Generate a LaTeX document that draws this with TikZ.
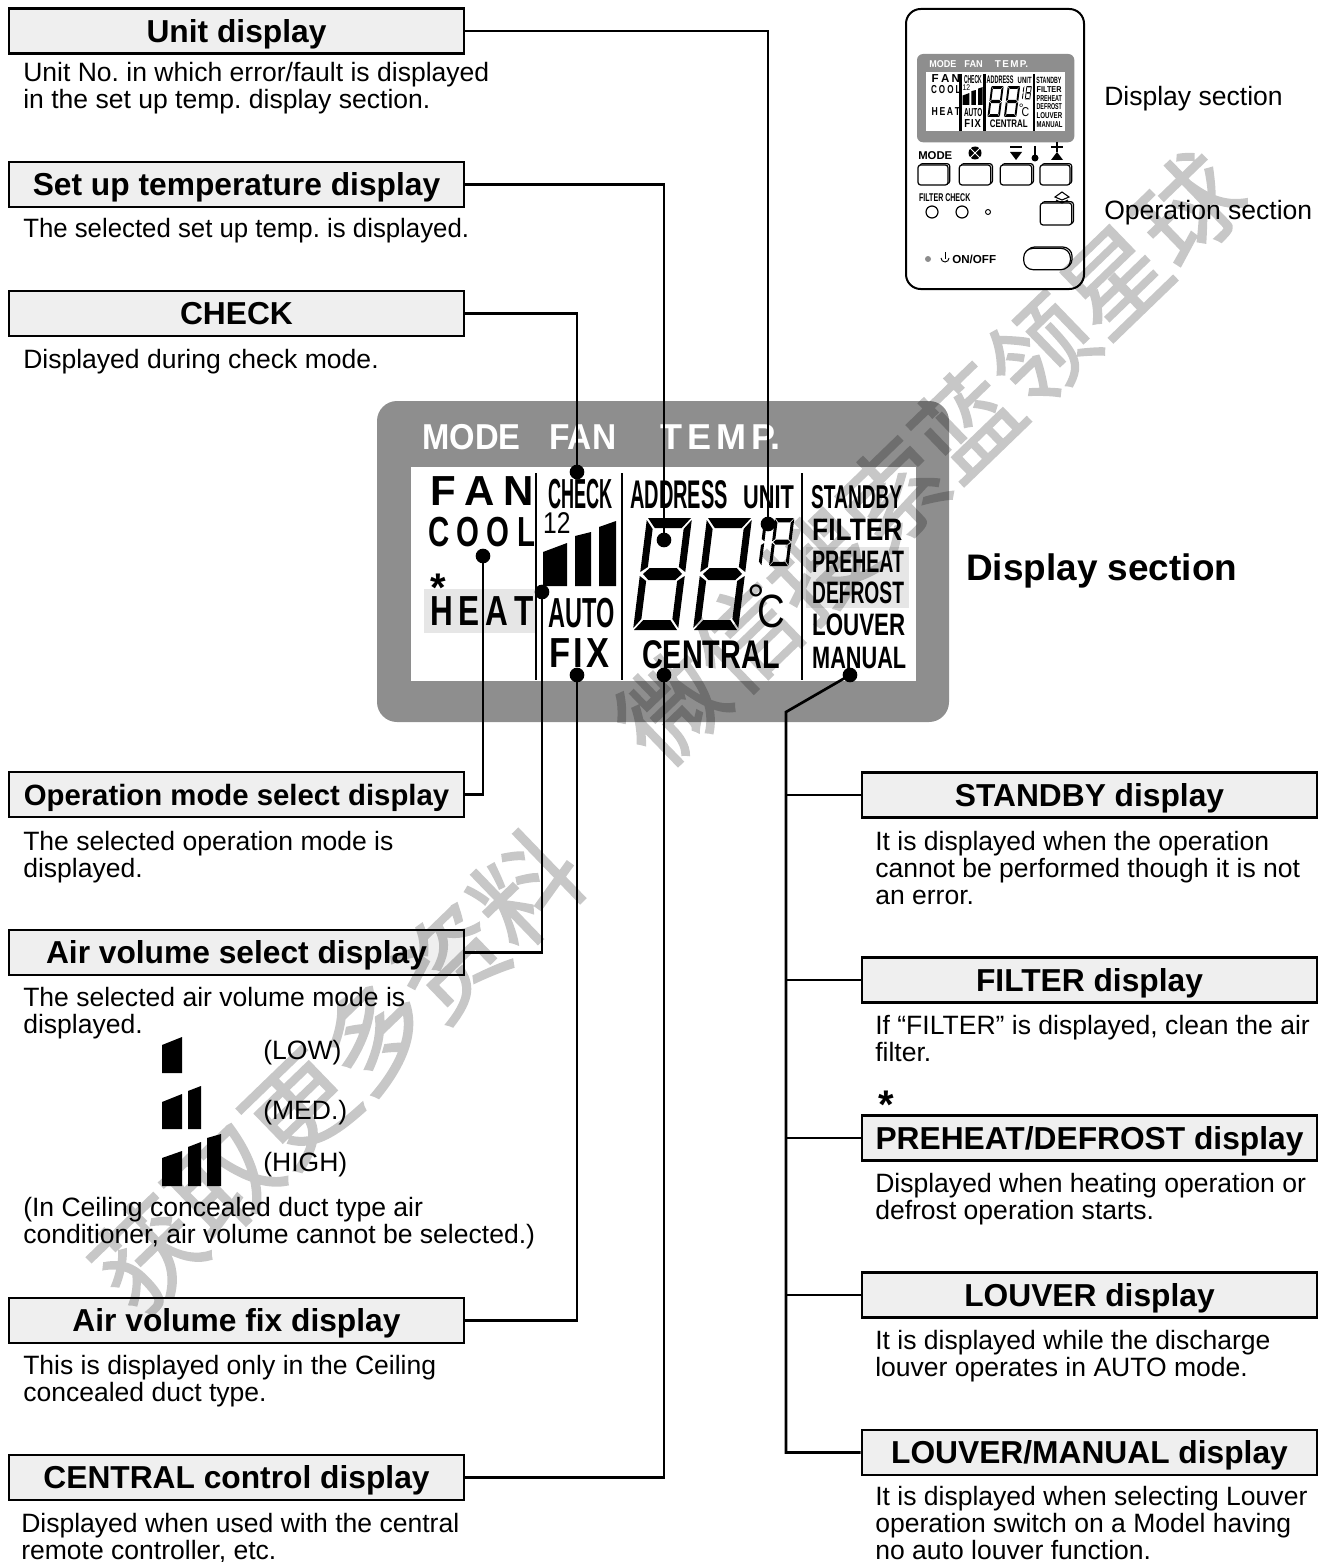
\documentclass[tikz,border=0pt]{standalone}
\usepackage{fontspec}
\setmainfont{Liberation Sans}
\newfontfamily\cjkfont[FakeBold=1.6]{Noto Sans CJK SC}
\usetikzlibrary{shadows}
\definecolor{panelgray}{HTML}{8E8E8E}
\definecolor{hdgray}{HTML}{EFEFEF}
\definecolor{markgray}{HTML}{E6E6E6}
\newcommand{\hdfont}{\fontsize{23.8}{28}\bfseries\selectfont}
\newcommand{\bodyfont}{\fontsize{19.9}{20.25}\selectfont\frenchspacing}
\newcommand{\segright}{
    \fill (45,2) -- (38,11) -- (38,49) -- (45,54) -- cycle;
    \fill (45,58) -- (38,63) -- (38,101) -- (45,110) -- cycle;
}
\newcommand{\segfull}{
    \fill (1,0) -- (44,0) -- (36,10) -- (9,10) -- cycle;
    \fill (1,112) -- (44,112) -- (36,102) -- (9,102) -- cycle;
    \fill (3,56) -- (9,50) -- (36,50) -- (42,56) -- (36,62) -- (9,62) -- cycle;
    \fill (0,2) -- (7,11) -- (7,49) -- (0,54) -- cycle;
    \fill (0,58) -- (7,63) -- (7,101) -- (0,110) -- cycle;
    \segright
}
\tikzset{
    hdbox/.style={draw, line width=2pt, fill=hdgray, minimum width=341.25pt, minimum height=33.75pt, inner sep=0pt, text height=20pt, text depth=2.8pt, font=\hdfont},
    bodytxt/.style={anchor=base west, align=left, inner sep=0pt, font=\bodyfont},
    conn/.style={line width=2pt},
    ddot/.style={circle, fill=black, minimum size=11pt, inner sep=0pt},
    lcdlbl/.style 2 args={anchor=base west, inner sep=0pt, font=\fontsize{#1}{#1}\bfseries\selectfont, xscale=#2, transform shape},
    rcbtn/.style={draw, line width=.9pt, fill=white, rounded corners=2pt, inner sep=0pt, copy shadow={draw=black, fill=white, shadow xshift=1.3pt, shadow yshift=1pt}},
    smallbd/.style={anchor=base west, inner sep=0pt, font=\fontsize{8.5}{9}\bfseries\selectfont},
    legbar/.style={fill=black},
    wmark/.style={rotate=44, inner sep=0pt, font=\fontsize{#1}{#1}\cjkfont\selectfont},
    panelr/.style={rounded corners=15pt},
    lcdback/.pic={
        \fill[panelgray, panelr] (0,0) rectangle (572,321);
        \fill[white] (34,66) rectangle (539,280);
    },
    lcdtext/.pic={
        \node[lcdlbl={27}{.91}, text=white] (lmode) at (45,48) {MODE};
        \node[lcdlbl={27}{.93}, text=white] (lfan) at (172,48) {FAN};
        \node[lcdlbl={27}{1}, text=white] (ltemp) at (283,48) {T\kern.14em E\kern.14em M\kern.14em P.};
        \node[lcdlbl={31.5}{1}] (sfan) at (53,104) {F\kern.2em A\kern.2em N};
        \node[lcdlbl={31.5}{.7}] (scool) at (51,145) {C\kern.25em O\kern.25em O\kern.25em L};
        \node[lcdlbl={31.5}{.75}] (sheat) at (53,224) {H\kern.19em E\kern.19em A\kern.19em T};
        \node[lcdlbl={31.5}{.43}] (scheck) at (171,107) {CHECK};
        \node[lcdlbl={22.5}{.82}] (stwo) at (166,132) {\mdseries 12};
        \node[lcdlbl={31.5}{.56}] (sauto) at (171,226) {AUTO};
        \node[lcdlbl={31.5}{.82}] (sfix) at (172,266) {F\kern.1em I\kern.1em X};
        \node[lcdlbl={30}{.5}] (saddr) at (253,107) {ADDRESS};
        \node[lcdlbl={24.75}{.66}] (sunit) at (366,107) {UNIT};
        \node[lcdlbl={30}{.72}] (scentral) at (265,267) {CENTRAL};
        \node[lcdlbl={33}{1}] (sdeg) at (370,214) {\mdseries °};
        \node[lcdlbl={35}{.82}] (scel) at (380,226) {\mdseries C};
        \node[lcdlbl={24.75}{.58}] (sstandby) at (434,107) {STANDBY};
        \node[lcdlbl={23.25}{.85}] (sfilter) at (435,139) {FILTER};
        \node[lcdlbl={23.25}{.63}] (spreheat) at (435,171) {PREHEAT};
        \node[lcdlbl={23.25}{.62}] (sdefrost) at (435,202) {DEFROST};
        \node[lcdlbl={23.25}{.72}] (slouver) at (435,234) {LOUVER};
        \node[lcdlbl={23.25}{.7}] (smanual) at (435,267) {MANUAL};
        \fill (166,151) -- (190,142) -- (190,185) -- (166,185) -- cycle;
        \fill (198,135) -- (214,131) -- (214,185) -- (198,185) -- cycle;
        \fill (222,126) -- (239,120) -- (239,185) -- (222,185) -- cycle;
        \draw[line width=1.9pt] (159,72) -- (159,279);
        \draw[line width=1.9pt] (245,72) -- (245,279);
        \draw[line width=1.9pt] (425,72) -- (425,279);
        \begin{scope}[shift={(270,117)}, xslant=.125] \segfull \end{scope}
        \begin{scope}[shift={(330,117)}, xslant=.125] \segfull \end{scope}
        \begin{scope}[shift={(371,117)}, xslant=.125, scale=.43] \segright \end{scope}
        \begin{scope}[shift={(398,117)}, xslant=.125, scale=.43] \segfull \end{scope}
    },
}
\begin{document}
\begin{tikzpicture}[x=.75pt, y=-.75pt]
    \useasboundingbox (0,0) rectangle (1325,1562);
    % big display
    \pic (big) at (377,401) {lcdback};
    \fill[markgray] (424,589) rectangle (535,633);
    \fill[markgray] (806,547) rectangle (909,608);
    \pic (bigt) at (377,401) {lcdtext};
    \node[anchor=base, inner sep=0pt, font=\fontsize{30}{30}\bfseries\selectfont] (lstar) at (438,601) {*};
    \node[bodytxt, font=\fontsize{27.7}{30}\bfseries\selectfont] (lbldisp) at (966,580) {Display section};
    % remote thumbnail
    \draw[line width=1.5pt, rounded corners=11pt] (906,9) rectangle (1084,289);
    \pic[scale=.275, panelr/.style={rounded corners=4.5pt}] (thb) at (917,54) {lcdback};
    \pic[scale=.275] (tht) at (917,54) {lcdtext};
    \node[smallbd] (tmode) at (918,160) {MODE};
    \node[rcbtn, minimum width=22.5pt, minimum height=15pt] (tb1) at (933,175) {};
    \node[rcbtn, minimum width=23.5pt, minimum height=15pt] (tb2) at (975,175) {};
    \node[rcbtn, minimum width=23.5pt, minimum height=15pt] (tb3) at (1016,175) {};
    \node[rcbtn, minimum width=22.5pt, minimum height=15pt] (tb4) at (1055,175) {};
    \node[rcbtn, minimum width=23.5pt, minimum height=16.5pt] (tb5) at (1056,214) {};
    \node[rcbtn, rounded corners=7pt, minimum width=35pt, minimum height=16pt] (tb6) at (1047,259) {};
    \fill (975,153) circle (6.5);
    \draw[white, line width=.6pt] (970,148) -- (980,158) (970,158) -- (980,148);
    \draw[line width=1pt] (1010,147) -- (1022,147);
    \fill (1010,152) -- (1022,152) -- (1016,160) -- cycle;
    \draw[line width=1pt] (1051,147) -- (1063,147) (1057,142) -- (1057,152);
    \fill (1051,160) -- (1063,160) -- (1057,152) -- cycle;
    \draw[line width=1pt] (1035,146) -- (1035,156);
    \fill (1035,158) circle (3.5);
    \draw[line width=.8pt] (1055,197) -- (1062,192) -- (1069,197) -- (1062,200) -- cycle;
    \draw[line width=.8pt] (1056,200) -- (1062,203) -- (1068,200);
    \node[smallbd, font=\fontsize{8.4}{9}\bfseries\selectfont, xscale=.63, transform shape] (tfil) at (919,202) {FILTER CHECK};
    \draw[line width=.9pt] (932,212) circle (6);
    \draw[line width=.9pt] (962,212) circle (6);
    \draw[line width=.7pt] (988,212) circle (2.5);
    \fill[black!45] (928,259) circle (3);
    \draw[line width=.7pt] (941,258) arc (180:0:4);
    \draw[line width=.7pt] (945,252) -- (945,259);
    \node[smallbd, font=\fontsize{8.7}{9}\bfseries\selectfont] (tonoff) at (952,263) {ON/OFF};
    \node[bodytxt] (lbldisp2) at (1104,106) {Display section};
    \node[bodytxt] (lblop) at (1104,220) {Operation section};
    % left column
    \node[hdbox] (hunit) at (236.5,31) {Unit display};
    \node[bodytxt] (tunit) at (23,109) {Unit No. in which error/fault is displayed\\in the set up temp. display section.};
    \node[hdbox] (hsetup) at (236.5,184.5) {Set up temperature display};
    \node[bodytxt, xscale=.972, transform shape] (tsetup) at (23,238) {The selected set up temp. is displayed.};
    \node[hdbox] (hcheck) at (236.5,313.5) {CHECK};
    \node[bodytxt] (tcheck) at (23,368) {Displayed during check mode.};
    \node[hdbox, font=\fontsize{22}{28}\bfseries\selectfont] (hmode) at (236.5,794.5) {Operation mode select display};
    \node[bodytxt] (tmode2) at (23,877) {The selected operation mode is\\displayed.};
    \node[hdbox] (hair) at (236.5,952.5) {Air volume select display};
    \node[bodytxt] (tair) at (23,1033) {The selected air volume mode is\\displayed.};
    \node[bodytxt] (tlow) at (263,1059) {(LOW)};
    \node[bodytxt] (tmed) at (263,1119) {(MED.)};
    \node[bodytxt] (thigh) at (263,1171) {(HIGH)};
    \node[bodytxt] (tair2) at (23,1243) {(In Ceiling concealed duct type air\\conditioner, air volume cannot be selected.)};
    \fill[legbar] (162,1045) -- (182,1037) -- (182,1073) -- (162,1073) -- cycle;
    \fill[legbar] (162,1102) -- (182,1094) -- (182,1129) -- (162,1129) -- cycle;
    \fill[legbar] (188,1091) -- (201,1086) -- (201,1129) -- (188,1129) -- cycle;
    \fill[legbar] (162,1158) -- (182,1151) -- (182,1186) -- (162,1186) -- cycle;
    \fill[legbar] (188,1147) -- (201,1142) -- (201,1186) -- (188,1186) -- cycle;
    \fill[legbar] (207,1138) -- (221,1134) -- (221,1186) -- (207,1186) -- cycle;
    \node[hdbox] (hfix) at (236.5,1320.5) {Air volume fix display};
    \node[bodytxt] (tfix) at (23,1401) {This is displayed only in the Ceiling\\concealed duct type.};
    \node[hdbox] (hcentral) at (236.5,1477.5) {CENTRAL control display};
    \node[bodytxt] (tcentral) at (21,1559) {Displayed when used with the central\\remote controller, etc.};
    % right column
    \node[hdbox] (hstandby) at (1089.5,795) {STANDBY display};
    \node[bodytxt] (tstandby) at (875,904) {It is displayed when the operation\\cannot be performed though it is not\\an error.};
    \node[hdbox] (hfilter) at (1089.5,980) {FILTER display};
    \node[bodytxt] (tfilter) at (875,1061) {If “FILTER” is displayed, clean the air\\filter.};
    \node[anchor=base, inner sep=0pt, font=\fontsize{30}{30}\bfseries\selectfont] (rstar) at (886,1118) {*};
    \node[hdbox] (hpreheat) at (1089.5,1138) {PREHEAT/DEFROST display};
    \node[bodytxt] (tpreheat) at (875,1219) {Displayed when heating operation or\\defrost operation starts.};
    \node[hdbox] (hlouver) at (1089.5,1295) {LOUVER display};
    \node[bodytxt] (tlouver) at (875,1376) {It is displayed while the discharge\\louver operates in AUTO mode.};
    \node[hdbox] (hmanual) at (1089.5,1452.5) {LOUVER/MANUAL display};
    \node[bodytxt] (tmanual) at (875,1559) {It is displayed when selecting Louver\\operation switch on a Model having\\no auto louver function.};
    % dots and connectors
    \node[ddot] (dunit) at (768,524) {};
    \node[ddot] (dsetup) at (664,540) {};
    \node[ddot] (dcheck) at (577,472) {};
    \node[ddot] (dmode) at (483,556) {};
    \node[ddot] (dair) at (542,592) {};
    \node[ddot] (dfix) at (577,675) {};
    \node[ddot] (dcentral) at (664,675) {};
    \node[ddot] (dmanual) at (850,675) {};
    \coordinate (mbend) at (786,712);
    \draw[conn] (hunit.east) -| (dunit.center);
    \draw[conn] (hsetup.east) -| (dsetup.center);
    \draw[conn] (hcheck.east) -| (dcheck.center);
    \draw[conn] (hmode.east) -| (dmode.center);
    \draw[conn] (hair.east) -| (dair.center);
    \draw[conn] (hfix.east) -| (dfix.center);
    \draw[conn] (hcentral.east) -| (dcentral.center);
    \draw[conn] (dmanual.center) -- (mbend) |- (hmanual.west);
    \draw[conn] (hstandby.west) -- (hstandby.west -| mbend);
    \draw[conn] (hfilter.west) -- (hfilter.west -| mbend);
    \draw[conn] (hpreheat.west) -- (hpreheat.west -| mbend);
    \draw[conn] (hlouver.west) -- (hlouver.west -| mbend);
    % watermark
    \begin{scope}[transparency group, opacity=.22]
    \node[wmark=79] (wm1) at (337,1071) {获取更多资料};
    \node[wmark=77] (wm2) at (930,458) {微信搜索蓝领星球};
    \end{scope}
\end{tikzpicture}
\end{document}
